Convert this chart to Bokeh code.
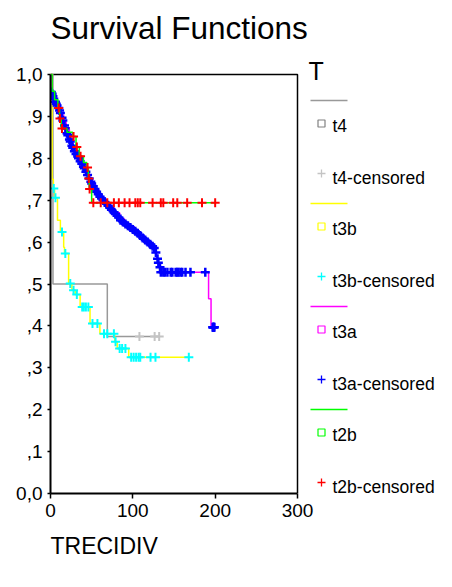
from bokeh.plotting import figure
from bokeh.models import Range1d, FixedTicker, Label, Title
from bokeh.embed import file_html
from bokeh.resources import INLINE

# ---------------- data ----------------
groups = ["t4", "t3b", "t3a", "t2b"]

t4_time = [0, 3, 69, 132]
t4_surv = [1.0, 0.5, 0.375, 0.375]
t4_cens_time = [108, 126.5, 132]
t4_cens_surv = [0.375, 0.375, 0.375]

t3b_time = [0, 2, 3.5, 5, 8.5, 12, 16, 17, 22, 26, 30, 36, 48, 60, 78, 81, 95, 168]
t3b_surv = [1.0, 0.75, 0.728, 0.706, 0.652, 0.624, 0.588, 0.573, 0.50, 0.485, 0.475,
            0.445, 0.406, 0.381, 0.362, 0.346, 0.325, 0.325]
t3b_cens_time = [4, 6, 14, 18, 24, 28, 32, 38.5, 40.5, 43, 46, 51, 57, 65, 69, 77, 79,
                 84, 87, 91, 98, 101, 104, 107, 109, 121.5, 127.5, 168]
t3b_cens_surv = [0.728, 0.706, 0.624, 0.573, 0.501, 0.485, 0.475, 0.445, 0.445, 0.445,
                 0.445, 0.406, 0.406, 0.381, 0.381, 0.381, 0.362, 0.346, 0.346, 0.346,
                 0.325, 0.325, 0.325, 0.325, 0.325, 0.325, 0.325, 0.325]

t3a_time = [0, 1.5, 4, 7, 10, 13, 16, 19, 23, 27, 31, 35, 39, 43, 47, 51, 55, 59, 63, 68,
            73, 78, 84, 90, 96, 102, 108, 114, 120, 125, 127, 129, 131, 133, 192, 195, 199]
t3a_surv = [1.0, 0.956, 0.945, 0.93, 0.92, 0.903, 0.886, 0.868, 0.848, 0.827, 0.81, 0.797,
            0.784, 0.768, 0.752, 0.736, 0.724, 0.71, 0.702, 0.69, 0.68, 0.67, 0.655, 0.644,
            0.636, 0.625, 0.615, 0.604, 0.595, 0.588, 0.575, 0.56, 0.548, 0.528, 0.465,
            0.397, 0.397]
t3a_cens_time = [1, 2, 3, 4, 6, 7, 8, 10, 11, 12, 14, 15, 17, 18, 20, 21, 23, 24, 26, 27,
                 29, 31, 33, 34, 36, 38, 40, 41, 43, 45, 47, 49, 50, 52, 54, 56, 58, 60,
                 62, 64, 66, 68, 70, 72, 74, 77, 79, 81, 83, 85, 88, 91, 94, 97, 100, 103,
                 106, 109, 112, 115, 118, 121, 124, 126, 128, 130, 131, 133, 134,
                 137, 139, 142, 146, 148, 152, 154, 155.5, 158, 160, 164, 170, 188,
                 197, 197.5, 198, 198.5, 199]
t3a_cens_surv = [0.958, 0.954, 0.948, 0.942, 0.935, 0.930, 0.926, 0.920, 0.914, 0.908,
                 0.897, 0.890, 0.878, 0.872, 0.860, 0.855, 0.845, 0.840, 0.830, 0.825,
                 0.817, 0.810, 0.804, 0.800, 0.793, 0.787, 0.780, 0.776, 0.768, 0.760,
                 0.752, 0.744, 0.740, 0.733, 0.727, 0.720, 0.714, 0.708, 0.704, 0.700,
                 0.696, 0.692, 0.687, 0.682, 0.677, 0.671, 0.667, 0.663, 0.659, 0.652,
                 0.648, 0.643, 0.639, 0.635, 0.630, 0.626, 0.621, 0.616, 0.610, 0.605,
                 0.600, 0.595, 0.590, 0.586, 0.575, 0.560, 0.551, 0.540, 0.528,
                 0.528, 0.528, 0.528, 0.528, 0.528, 0.528, 0.528, 0.528, 0.528, 0.528,
                 0.528, 0.528, 0.528,
                 0.397, 0.397, 0.397, 0.397, 0.397]

t2b_time = [0, 2, 5, 9, 11, 13, 20, 27, 31, 35, 40, 44, 46, 47, 50, 200]
t2b_surv = [1.0, 0.96, 0.94, 0.92, 0.895, 0.871, 0.862, 0.852, 0.827, 0.805, 0.79, 0.778,
            0.752, 0.727, 0.694, 0.694]
t2b_cens_time = [10, 11.5, 14, 28, 32, 36.5, 45, 46.5, 47.5, 52, 61, 69, 77, 83, 90, 96,
                 103, 106, 109, 124, 134, 137, 149, 154, 166, 184, 200]
t2b_cens_surv = [0.920, 0.895, 0.871, 0.852, 0.827, 0.805, 0.778, 0.752, 0.727, 0.694,
                 0.694, 0.694, 0.694, 0.694, 0.694, 0.694, 0.694, 0.694, 0.694, 0.694,
                 0.694, 0.694, 0.694, 0.694, 0.694, 0.694, 0.694]

x_min, x_max = 0, 300
y_min, y_max = 0.0, 1.0
x_ticks = [0, 100, 200, 300]
y_ticks = [0.0, 0.1, 0.2, 0.3, 0.4, 0.5, 0.6, 0.7, 0.8, 0.9, 1.0]
y_tick_labels = ["0,0", ",1", ",2", ",3", ",4", ",5", ",6", ",7", ",8", ",9", "1,0"]

title_text = "Survival Functions"
x_label = "TRECIDIV"
legend_title = "T"

# ---------------- styles / layout ----------------
line_colors = {"t4": "#999999", "t3b": "#ffff00", "t3a": "#ff00ff", "t2b": "#00ff00"}
square_colors = {"t4": "#808080", "t3b": "#ffff00", "t3a": "#ff00ff", "t2b": "#00ff00"}
cens_colors = {"t4": "#c4c4c4", "t3b": "#00ffff", "t3a": "#0000ff", "t2b": "#ff0000"}
FONT = "Liberation Sans"

W, H = 436, 571
# axes box in canvas px
BL, BR, BT, BB = 50, 297, 74, 493
# the frame spans from BL to the right edge and from the top edge down to BB
FL, FR, FT, FB = BL, W, 0, BB
x_end = x_min + (x_max - x_min) * (FR - FL) / (BR - BL)
y_end = y_min + (y_max - y_min) * (FB - FT) / (BB - BT)


def dx(px):
    return x_min + (px - BL) * (x_max - x_min) / (BR - BL)


def dy(py):
    return y_min + (BB - py) * (y_max - y_min) / (BB - BT)


p = figure(width=W, height=H, x_range=Range1d(x_min, x_end), y_range=Range1d(y_min, y_end),
           output_backend="svg", toolbar_location=None,
           min_border_left=FL, min_border_right=W - FR,
           min_border_top=FT, min_border_bottom=H - FB)
p.title.text = ""
p.xgrid.visible = False
p.ygrid.visible = False
p.outline_line_color = None
p.background_fill_color = "white"
p.border_fill_color = "white"

for ax in (p.xaxis[0], p.yaxis[0]):
    ax.axis_line_width = 2
    ax.axis_line_color = "black"
    ax.major_tick_line_color = "black"
    ax.major_tick_line_width = 1.5
    ax.major_tick_in = 0
    ax.minor_tick_line_color = None
    ax.major_label_text_font = FONT
    ax.major_label_text_font_size = "19px"
    ax.major_label_text_color = "black"

xa = p.xaxis[0]
xa.ticker = FixedTicker(ticks=x_ticks)
xa.bounds = (x_min, x_max)
xa.major_tick_out = 5
xa.major_label_standoff = 5

ya = p.yaxis[0]
ya.ticker = FixedTicker(ticks=y_ticks)
ya.bounds = (y_min, y_max)
ya.major_label_overrides = {t: l for t, l in zip(y_ticks, y_tick_labels)}
ya.major_tick_out = 3
ya.major_label_standoff = 5

# x-axis title, left-aligned below the axis
p.add_layout(Title(text=x_label, align="left", text_font=FONT, text_font_size="23px",
                   text_font_style="normal", text_color="black", standoff=22), "below")

# top and right sides of the axes box
p.line([x_min, x_max, x_max], [y_max, y_max, y_min], line_color="black", line_width=1.5)

curves = {
    "t4": (t4_time, t4_surv, t4_cens_time, t4_cens_surv),
    "t3b": (t3b_time, t3b_surv, t3b_cens_time, t3b_cens_surv),
    "t3a": (t3a_time, t3a_surv, t3a_cens_time, t3a_cens_surv),
    "t2b": (t2b_time, t2b_surv, t2b_cens_time, t2b_cens_surv),
}
for g in groups:
    tt, ss, ct, cs = curves[g]
    p.step(tt, ss, mode="after", line_color=line_colors[g], line_width=1.5)
    p.scatter(ct, cs, marker="cross", size=9, line_color=cens_colors[g],
              line_width=2.5 if g == "t3a" else 2)


# ---------------- legend & title (inside the frame area) ----------------
def text(s, x, y_mid, size):
    p.add_layout(Label(x=x - FL, y=FB - y_mid, x_units="screen", y_units="screen", text=s,
                       text_font=FONT, text_font_size=size, text_color="black",
                       text_baseline="middle", text_align="left"))


text(title_text, 50, 27, "31.5px")
text(legend_title, 308, 70, "25px")

base = 100
step_y = 103
for i, g in enumerate(groups):
    y0 = base + i * step_y
    p.segment(x0=[dx(310)], y0=[dy(y0)], x1=[dx(347)], y1=[dy(y0)],
              line_color=line_colors[g], line_width=1.5)
    p.scatter([dx(321)], [dy(y0 + 23)], marker="square", size=7, fill_color=None,
              line_color=square_colors[g], line_width=1.2)
    text(g, 332, y0 + 25.5, "17.5px")
    p.scatter([dx(321)], [dy(y0 + 73)], marker="cross", size=8,
              line_color=cens_colors[g], line_width=1.3)
    text(g + "-censored", 332, y0 + 77, "17.5px")

open("out.html", "w").write(file_html(p, INLINE))
